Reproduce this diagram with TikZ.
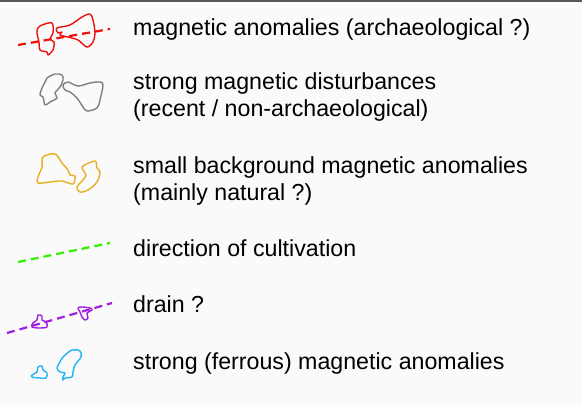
\documentclass[tikz,border=0pt]{standalone}
\usepackage{fontspec}
\setmainfont{Liberation Sans}
\usepackage{tikz}
\definecolor{paper}{HTML}{FAFAFA}
\definecolor{frame}{HTML}{5A5A5A}
\definecolor{arch}{HTML}{F01010}
\definecolor{dist}{HTML}{808080}
\definecolor{natu}{HTML}{E6B020}
\definecolor{cult}{HTML}{33F000}
\definecolor{drn}{HTML}{A020E0}
\definecolor{ferr}{HTML}{20B4F4}
\tikzset{blob/.style={line width=1.4pt,line join=round},
  dashline/.style={line width=2.2pt,dash pattern=on 8pt off 5pt},
  lab/.style={anchor=base west,align=left,inner sep=0pt,
    font=\fontsize{23.2}{26.5}\selectfont}}

\begin{document}
\begin{tikzpicture}[x=1pt,y=-1pt]
  \fill[paper] (0,0) rectangle (582,405);
  \useasboundingbox (0,0) rectangle (582,405);
  \draw[frame,line width=2pt] (0,1) -- (582,1);
  % archaeological
  \draw[blob,arch] plot[smooth cycle,tension=0.55] coordinates
    {(42,25) (52,23) (53,33) (50,39) (54,42) (53,50) (48,55) (47,52) (40,50) (39,42) (37,33) (38,28)};
  \draw[blob,arch] plot[smooth cycle,tension=0.55] coordinates
    {(57,28) (70,25) (82,17) (90,14) (93,20) (95,33) (93,42) (87,47) (78,40) (68,37) (60,35) (62,32) (58,33)};
  \coordinate (a1) at (18,45);
  \coordinate (a2) at (110,29);
  \draw[dashline,arch] (a1) -- (a2);
  \node[lab] (tArch) at (133,35) {magnetic anomalies (archaeological ?)};
  % disturbances
  \draw[blob,dist] plot[smooth cycle,tension=0.55] coordinates
    {(47,78) (55,74) (62,75) (63,80) (60,87) (55,93) (57,98) (50,102) (45,105) (43,97) (40,95) (42,88) (45,82)};
  \draw[blob,dist] plot[smooth cycle,tension=0.55] coordinates
    {(63,85) (68,82) (78,86) (90,83) (100,82) (103,85) (100,100) (97,108) (87,111) (83,107) (77,98) (70,92) (65,90)};
  \node[lab] (tDist) at (133,116) {strong magnetic disturbances\\(recent / non-archaeological)};
  % natural
  \draw[blob,natu] plot[smooth cycle,tension=0.55] coordinates
    {(43,157) (55,154) (62,163) (68,170) (70,175) (75,176) (73,184) (62,181) (50,182) (38,183) (38,177) (42,167)};
  \draw[blob,natu] plot[smooth cycle,tension=0.55] coordinates
    {(83,166) (95,161) (97,168) (100,172) (97,182) (88,190) (80,192) (77,187) (83,180) (86,175) (83,170)};
  \node[lab] (tNatu) at (133,200) {small background magnetic anomalies\\(mainly natural ?)};
  % cultivation
  \coordinate (c1) at (18,262);
  \coordinate (c2) at (110,243);
  \draw[dashline,cult] (c1) -- (c2);
  \node[lab] (tCult) at (133,256) {direction of cultivation};
  % drain
  \coordinate (d1) at (7,333);
  \coordinate (d2) at (112,303);
  \draw[dashline,drn] (d1) -- (d2);
  \draw[blob,drn] plot[smooth cycle,tension=0.55] coordinates
    {(33,323) (37,320) (38,315) (42,316) (42,320) (46,322) (47,327) (40,328) (32,327)};
  \draw[blob,drn] plot[smooth cycle,tension=0.55] coordinates
    {(78,308) (82,307) (90,308) (92,310) (87,313) (88,318) (85,320) (82,317) (80,312)};
  \node[lab] (tDrn) at (133,312) {drain ?};
  % ferrous
  \draw[blob,ferr] plot[smooth cycle,tension=0.55] coordinates
    {(32,375) (37,372) (38,367) (42,366) (43,370) (47,373) (46,378) (40,378) (32,377)};
  \draw[blob,ferr] plot[smooth cycle,tension=0.55] coordinates
    {(63,357) (72,350) (80,351) (81,357) (75,365) (73,372) (72,377) (65,378) (63,380) (63,377) (65,373) (60,372) (57,368) (60,362)};
  \node[lab] (tFerr) at (133,369) {strong (ferrous) magnetic anomalies};
\end{tikzpicture}
\end{document}
